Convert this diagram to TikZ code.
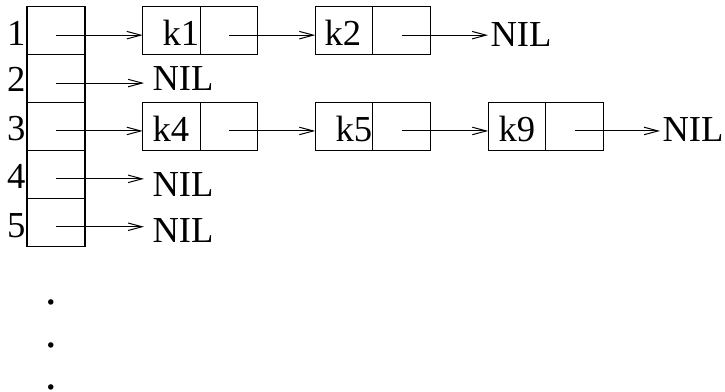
\documentclass[tikz,border=0pt]{standalone}
\usepackage{fontspec}
\setmainfont{Liberation Serif}
\usetikzlibrary{arrows.meta,calc}
\begin{document}
\begin{tikzpicture}[x=1pt,y=-1pt,
  line width=1.1pt,
  every node/.style={font=\fontsize{36.6pt}{40pt}\selectfont},
  slot/.style={draw, minimum width=58pt, minimum height=47.9pt, inner sep=0pt, outer sep=0pt},
  cell/.style={draw, minimum width=57.5pt, minimum height=47.9pt, inner sep=0pt, outer sep=0pt},
  lbl/.style={inner sep=0pt, anchor=base west},
  idx/.style={inner sep=0pt, anchor=base east},
  dotmark/.style={inner sep=0pt, anchor=base west, font=\fontsize{46pt}{46pt}\selectfont},
  ptr/.style={-{Straight Barb[length=14pt,width=7.5pt]}, line width=1pt}]
\useasboundingbox (0,0) rectangle (725,391);

% hash table slots
\node[slot] (t1) at (56,30.65) {};
\node[slot] (t2) at (56,78.55) {};
\node[slot] (t3) at (56,126.45) {};
\node[slot] (t4) at (56,174.35) {};
\node[slot] (t5) at (56,222.25) {};

% slot indices
\node[idx] (i1) at (26,45) {1};
\node[idx] (i2) at (26,91) {2};
\node[idx] (i3) at (26,140) {3};
\node[idx] (i4) at (26,188) {4};
\node[idx] (i5) at (26,237) {5};

% chain of slot 1: k1 -> k2 -> NIL
\node[cell] (k1) at (171.5,30.65) {};
\node[cell, anchor=west] (p1) at (k1.east) {};
\node[cell] (k2) at (344,30.65) {};
\node[cell, anchor=west] (p2) at (k2.east) {};
\node[lbl] (k1t) at (162,45) {k1};
\node[lbl] (k2t) at (324,45) {k2};
\node[lbl] (n1) at (490,46) {NIL};

% chain of slot 3: k4 -> k5 -> k9 -> NIL
\node[cell] (k4) at (171.5,126.45) {};
\node[cell, anchor=west] (p4) at (k4.east) {};
\node[cell] (k5) at (344,126.45) {};
\node[cell, anchor=west] (p5) at (k5.east) {};
\node[cell] (k9) at (517,126.45) {};
\node[cell, anchor=west] (p9) at (k9.east) {};
\node[lbl] (k4t) at (152,141) {k4};
\node[lbl] (k5t) at (335,141) {k5};
\node[lbl] (k9t) at (498,141) {k9};
\node[lbl] (n3) at (662,141) {NIL};

% empty slots
\node[lbl] (n2) at (152,90) {NIL};
\node[lbl] (n4) at (152,196) {NIL};
\node[lbl] (n5) at (152,242) {NIL};

% pointer start points
\coordinate (s1) at ([yshift=-4.5pt]t1.center);
\coordinate (s2) at ([yshift=-4.5pt]t2.center);
\coordinate (s3) at ([yshift=-4.5pt]t3.center);
\coordinate (s4) at ([yshift=-4.5pt]t4.center);
\coordinate (s5) at ([yshift=-4.5pt]t5.center);
\coordinate (q1) at ([yshift=-4.5pt]p1.center);
\coordinate (q2) at ([yshift=-4.5pt]p2.center);
\coordinate (q4) at ([yshift=-4.5pt]p4.center);
\coordinate (q5) at ([yshift=-4.5pt]p5.center);
\coordinate (q9) at ([yshift=-4.5pt]p9.center);

% pointers
\draw[ptr] (s1) -- (s1 -| k1.west);
\draw[ptr] (q1) -- (q1 -| k2.west);
\draw[ptr] (q2) -- ($(q2 -| n1.west)+(-2,0)$);
\draw[ptr] (s2) -- ($(s2 -| n2.west)+(-8,0)$);
\draw[ptr] (s3) -- (s3 -| k4.west);
\draw[ptr] (q4) -- (q4 -| k5.west);
\draw[ptr] (q5) -- (q5 -| k9.west);
\draw[ptr] (q9) -- ($(q9 -| n3.west)+(-2,0)$);
\draw[ptr] (s4) -- ($(s4 -| n4.west)+(-8,0)$);
\draw[ptr] (s5) -- ($(s5 -| n5.west)+(-8,0)$);

% continuation dots
\node[dotmark] (d1) at (45.3,304.3) {.};
\node[dotmark] (d2) at (45.3,347.3) {.};
\node[dotmark] (d3) at (45.3,389.3) {.};
\end{tikzpicture}
\end{document}
